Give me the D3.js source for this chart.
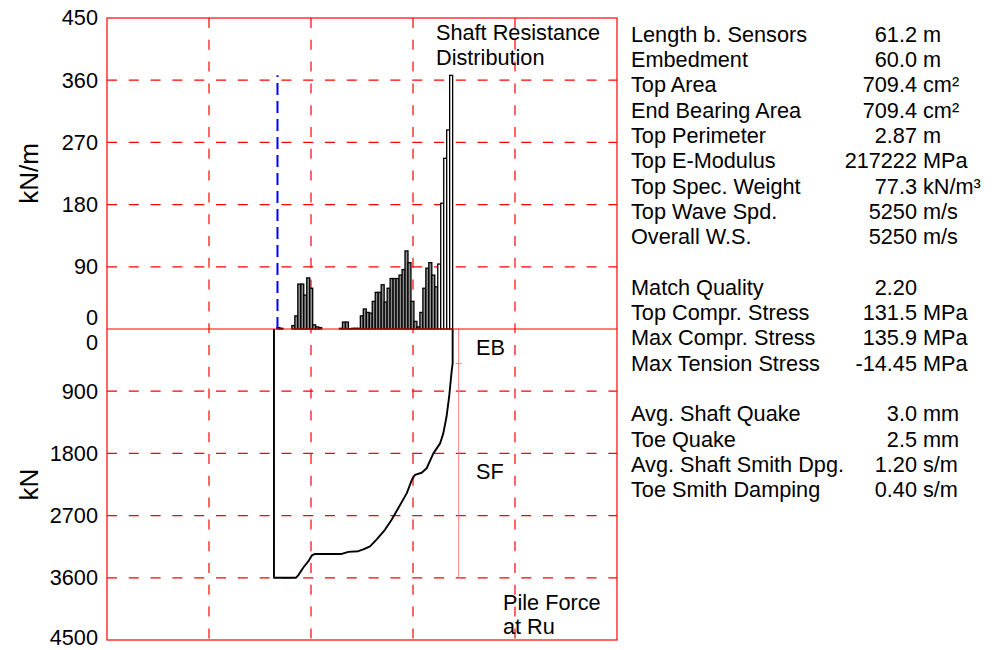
<!DOCTYPE html>
<html>
<head>
<meta charset="utf-8">
<script src="https://cdn.jsdelivr.net/npm/d3@7"></script>
<style>
  body { margin: 0; background: #fff; }
  svg text { font-family: "Liberation Sans", Arial, sans-serif; fill: #000; }
</style>
</head>
<body>
<svg id="chart" width="1000" height="650"></svg>
<script>
// Pile geometry (metres below sensors)
const pileLength = 61.2;
const embedment = 60.0;
const segmentCount = 60;
const toeZoneSegments = 5;   // lowest segments drawn unfilled

// Shaft resistance per pile segment, top to toe (kN/m)
const shaftResistance = [
  0, 2, 1, 0, 0, 0, 5, 19, 65, 65,
  49, 74, 59, 6, 3, 2, 0, 0, 0, 0,
  0, 0, 1, 10, 10, 0.5, 1, 1, 1, 19,
  29, 24, 23, 40, 53, 53, 64, 39, 59, 73,
  73, 73, 78, 86, 113, 96, 40, 11, 3, 24,
  59, 88, 96, 78, 61, 94, 182, 247, 288, 367
];

// Pile force at Ru along the pile
const forceDepth = [0, 7.5, 8.3, 10.0, 11.8, 12.9, 14.0, 23.2, 25.5, 28.9, 30.6, 32.9, 35.2, 38.0,
  40.3, 42.6, 45.5, 47.2, 48.3, 50.6, 52.3, 54.6, 56.9, 58.0, 59.1, 60.0, 60.9, 61.2];
const forceValues = [3600, 3600, 3565, 3455, 3360, 3280, 3255, 3255, 3225, 3215, 3190, 3145, 3045, 2905,
  2760, 2590, 2375, 2185, 2110, 2080, 2015, 1800, 1655, 1510, 1270, 980, 595, 500];

const totalRu = 3600;     // kN
const endBearing = 500;   // kN

const resistanceTicks = [0, 90, 180, 270, 360, 450];
const forceTicks = [0, 900, 1800, 2700, 3600, 4500];

// Result summary
const infoLabels = ["Length b. Sensors", "Embedment", "Top Area", "End Bearing Area", "Top Perimeter",
  "Top E-Modulus", "Top Spec. Weight", "Top Wave Spd.", "Overall W.S.", "",
  "Match Quality", "Top Compr. Stress", "Max Compr. Stress", "Max Tension Stress", "",
  "Avg. Shaft Quake", "Toe Quake", "Avg. Shaft Smith Dpg.", "Toe Smith Damping"];
const infoNumbers = ["61.2", "60.0", "709.4", "709.4", "2.87", "217222", "77.3", "5250", "5250", "",
  "2.20", "131.5", "135.9", "-14.45", "",
  "3.0", "2.5", "1.20", "0.40"];
const infoUnits = ["m", "m", "cm\u00B2", "cm\u00B2", "m", "MPa", "kN/m\u00B3", "m/s", "m/s", "",
  "", "MPa", "MPa", "MPa", "",
  "mm", "mm", "s/m", "s/m"];

// ---- layout ----
const svg = d3.select("#chart");
const frame = { left: 107, right: 617, top: 18, mid: 329, bottom: 640 };
const RED = "#ff0000";
const FS = 21.7;

const x = d3.scaleLinear().domain([-57.2, 117.5]).range([frame.left, frame.right]);
const gridX = d3.scaleLinear().domain([0, 5]).range([frame.left, frame.right]);
const yRes = d3.scaleLinear().domain([0, 450]).range([frame.mid, frame.top]);
const yForce = d3.scaleLinear().domain([0, 4500]).range([frame.mid, frame.bottom]);

// grid
const grid = svg.append("g")
  .attr("stroke", RED).attr("stroke-width", 1.2).attr("stroke-dasharray", "10,11.8").attr("fill", "none");
[1, 2, 3, 4].forEach(k => {
  grid.append("line").attr("x1", gridX(k)).attr("x2", gridX(k))
    .attr("y1", frame.top).attr("y2", frame.bottom);
});
resistanceTicks.slice(1, -1).forEach(v => {
  grid.append("line").attr("x1", frame.left).attr("x2", frame.right)
    .attr("y1", yRes(v)).attr("y2", yRes(v));
});
forceTicks.slice(1, -1).forEach(v => {
  grid.append("line").attr("x1", frame.left).attr("x2", frame.right)
    .attr("y1", yForce(v)).attr("y2", yForce(v));
});

// shaft resistance bars
const segLen = pileLength / segmentCount;
svg.append("g").selectAll("rect")
  .data(shaftResistance.map((v, i) => ({ v, i })).filter(d => d.v > 0))
  .join("rect")
  .attr("x", d => x(d.i * segLen))
  .attr("width", d => x((d.i + 1) * segLen) - x(d.i * segLen))
  .attr("y", d => yRes(d.v))
  .attr("height", d => yRes(0) - yRes(d.v))
  .attr("fill", d => d.i >= segmentCount - toeZoneSegments ? "#ffffff" : "#8c8c8c")
  .attr("stroke", "#000")
  .attr("stroke-width", 1.3);

// ground surface marker
svg.append("line")
  .attr("x1", x(pileLength - embedment)).attr("x2", x(pileLength - embedment))
  .attr("y1", yRes(0)).attr("y2", yRes(d3.max(shaftResistance)))
  .attr("stroke", "#0000ff").attr("stroke-width", 2).attr("stroke-dasharray", "12,6");

// pile force at Ru
const forcePts = [[0, 0]].concat(forceDepth.map((d, i) => [d, forceValues[i]]), [[pileLength, 0]]);
svg.append("path")
  .attr("d", d3.line().x(d => x(d[0])).y(d => yForce(d[1]))(forcePts))
  .attr("fill", "none").attr("stroke", "#000").attr("stroke-width", 1.9)
  .attr("stroke-linejoin", "round");

// shaft / end bearing split
const splitX = x(pileLength) + 6;
svg.append("line").attr("x1", splitX).attr("x2", splitX)
  .attr("y1", yForce(0)).attr("y2", yForce(totalRu))
  .attr("stroke", "#ff8080").attr("stroke-width", 1);
svg.append("line").attr("x1", splitX - 3).attr("x2", splitX + 3)
  .attr("y1", yForce(endBearing)).attr("y2", yForce(endBearing))
  .attr("stroke", "#ff8080").attr("stroke-width", 1);

// frame
svg.append("rect")
  .attr("x", frame.left).attr("y", frame.top)
  .attr("width", frame.right - frame.left).attr("height", frame.bottom - frame.top)
  .attr("fill", "none").attr("stroke", RED).attr("stroke-width", 1.2);
svg.append("line").attr("x1", frame.left).attr("x2", frame.right)
  .attr("y1", frame.mid).attr("y2", frame.mid)
  .attr("stroke", RED).attr("stroke-width", 1.2);

// axes
const fmt = d3.format("d");
const axisTop = svg.append("g").attr("transform", `translate(${frame.left},0)`)
  .call(d3.axisLeft(yRes).tickValues(resistanceTicks).tickFormat(fmt).tickSize(0).tickPadding(9));
const axisBot = svg.append("g").attr("transform", `translate(${frame.left},0)`)
  .call(d3.axisLeft(yForce).tickValues(forceTicks).tickFormat(fmt).tickSize(0).tickPadding(9));
[axisTop, axisBot].forEach(g => {
  g.select(".domain").remove();
  g.selectAll("text").attr("font-size", FS);
});
axisTop.selectAll(".tick").filter(d => d === 0).select("text").attr("dy", "-0.2em");
axisBot.selectAll(".tick").filter(d => d === 0).select("text").attr("dy", "0.95em");
axisBot.selectAll(".tick").filter(d => d === 4500).select("text").attr("dy", "0.2em");

svg.append("text").attr("transform", `translate(38,${(frame.top + frame.mid) / 2}) rotate(-90)`)
  .attr("text-anchor", "middle").attr("font-size", 26).text("kN/m");
svg.append("text").attr("transform", `translate(38,${(frame.mid + frame.bottom) / 2}) rotate(-90)`)
  .attr("text-anchor", "middle").attr("font-size", 26).text("kN");

// panel captions
const cap = svg.append("g").attr("font-size", FS);
cap.append("text").attr("x", 436).attr("y", 40).text("Shaft Resistance");
cap.append("text").attr("x", 436).attr("y", 65).text("Distribution");
cap.append("text").attr("x", 476).attr("y", 355).text("EB");
cap.append("text").attr("x", 476).attr("y", 479).text("SF");
cap.append("text").attr("x", 503).attr("y", 610).text("Pile Force");
cap.append("text").attr("x", 503).attr("y", 634).text("at Ru");

// summary table
const info = svg.append("g").attr("font-size", FS);
infoLabels.forEach((lab, r) => {
  if (!lab) return;
  const yy = 41.7 + r * 25.3;
  info.append("text").attr("x", 631).attr("y", yy).text(lab);
  info.append("text").attr("x", 917).attr("y", yy).attr("text-anchor", "end").text(infoNumbers[r]);
  if (infoUnits[r]) info.append("text").attr("x", 923).attr("y", yy).text(infoUnits[r]);
});
</script>
</body>
</html>
